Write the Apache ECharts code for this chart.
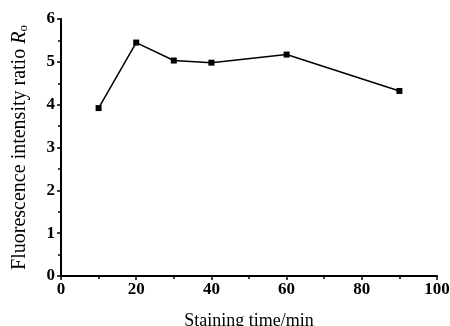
<!DOCTYPE html>
<html>
<head>
<meta charset="utf-8">
<script src="https://cdn.jsdelivr.net/npm/echarts@6/dist/echarts.min.js"></script>
<style>
  html, body { margin: 0; padding: 0; background: #fff; }
  #chart { width: 450px; height: 326px; }
</style>
</head>
<body>
<div id="chart"></div>
<script>
// data
var times = [10, 20, 30, 40, 60, 90];
var ratios = [3.92, 5.45, 5.03, 4.98, 5.17, 4.32];

var points = times.map(function(t, i) { return [t, ratios[i]]; });

var chart = echarts.init(document.getElementById('chart'));
var font = '"Liberation Serif", "DejaVu Serif", serif';

chart.setOption({
    animation: false,
    backgroundColor: '#fff',
    grid: { left: 61, right: 13, top: 19, bottom: 50, outerBoundsMode: 'none', containLabel: false },
    xAxis: {
        type: 'value',
        min: 0, max: 100, interval: 20,
        name: 'Staining time/min',
        nameLocation: 'middle',
        nameGap: 36,
        nameTextStyle: { fontFamily: font, fontSize: 18, color: '#000' },
        axisLine: { lineStyle: { color: '#000', width: 2 } },
        axisTick: { length: 4, lineStyle: { color: '#000', width: 1.5 } },
        minorTick: { show: true, splitNumber: 2, length: 3, lineStyle: { color: '#000', width: 1.5 } },
        axisLabel: { fontFamily: font, fontSize: 17, fontWeight: 'bold', color: '#000', margin: 5 },
        splitLine: { show: false }
    },
    yAxis: {
        type: 'value',
        min: 0, max: 6, interval: 1,
        name: '{n|Fluorescence intensity ratio }{r|R}{s|o}',
        nameLocation: 'middle',
        nameGap: 31,
        nameTextStyle: {
            fontFamily: font, fontSize: 20, color: '#000',
            rich: {
                n: { fontFamily: font, fontSize: 20, color: '#000' },
                r: { fontFamily: font, fontSize: 20, fontStyle: 'italic', color: '#000' },
                s: { fontFamily: font, fontSize: 13, color: '#000', verticalAlign: 'bottom', padding: [8, 0, 0, 0] }
            }
        },
        axisLine: { show: true, lineStyle: { color: '#000', width: 2 } },
        axisTick: { show: true, length: 4, lineStyle: { color: '#000', width: 1.5 } },
        minorTick: { show: true, splitNumber: 2, length: 3, lineStyle: { color: '#000', width: 1.5 } },
        axisLabel: { fontFamily: font, fontSize: 17, fontWeight: 'bold', color: '#000', margin: 6 },
        splitLine: { show: false }
    },
    series: [{
        type: 'line',
        data: points,
        symbol: 'rect',
        symbolSize: 6,
        itemStyle: { color: '#000' },
        lineStyle: { color: '#000', width: 1.5 }
    }]
});
</script>
</body>
</html>
